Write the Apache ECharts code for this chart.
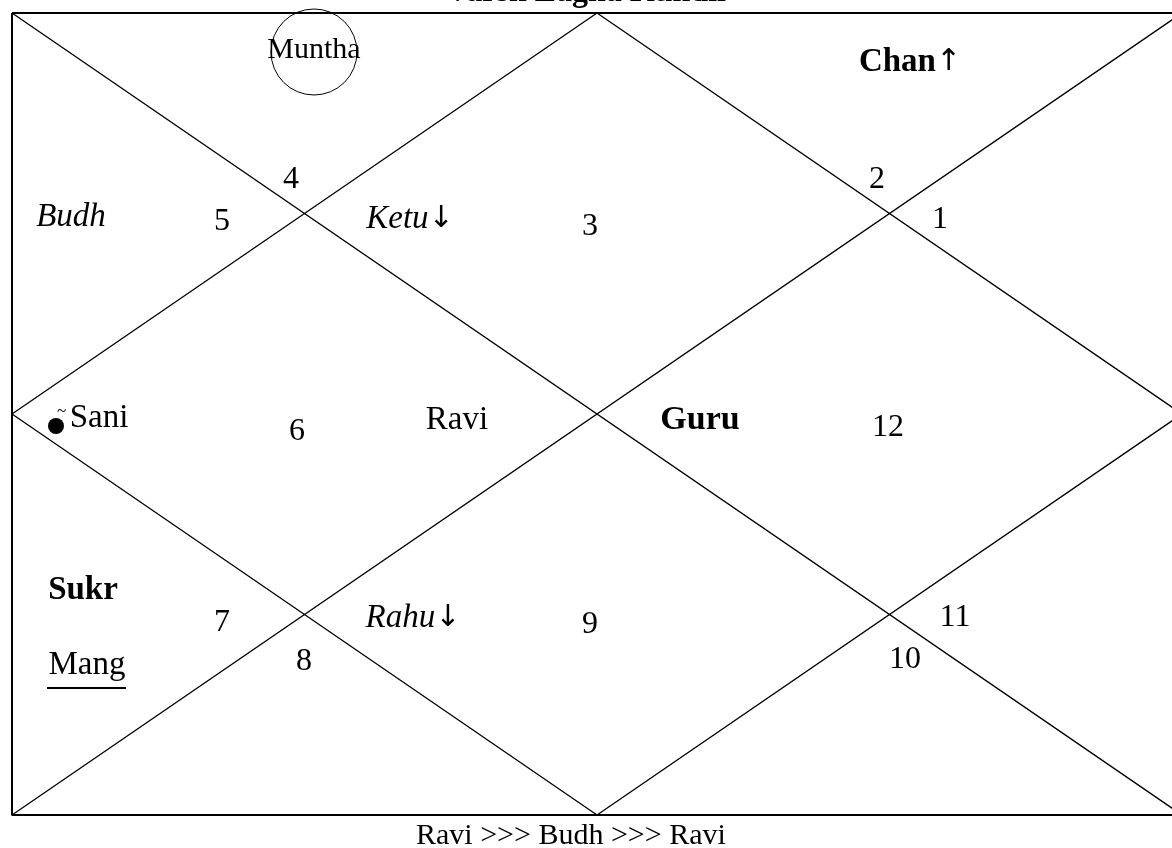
<!DOCTYPE html>
<html><head><meta charset="utf-8">
<script src="https://cdn.jsdelivr.net/npm/echarts@6/dist/echarts.min.js"></script>
<style>html,body{margin:0;padding:0;background:#fff}#c{width:1172px;height:848px}</style>
</head><body><div id="c"></div>
<script>
// chart units: x 0..1170, y 0..802 (top to bottom)
const titleText = 'Varsh Lagna Kundli';
const footerText = 'Ravi >>> Budh >>> Ravi';

const frameLine = [[0,0],[1170,0],[1170,802],[0,802],[0,0]];
const diagonalA = [[0,0],[1170,802]];
const diagonalB = [[1170,0],[0,802]];
const diamond = [[585,0],[1170,401],[585,802],[0,401],[585,0]];

const houseNumbers = ['1','2','3','4','5','6','7','8','9','10','11','12'];
const houseX = [928,865,578,279,210,285,210,292,578,893,943,876];
const houseY = [207,167,214,167,209,419,610,649,612,647,605,415];

const planetNames = ['Muntha','Chan','Budh','Ketu','Sani','Ravi','Guru','Sukr','Rahu','Mang'];
const planetArrows = ['','↑','','↓','','','','','↓',''];
const planetX = [302,898,59,398,87,445,688,71,401,75];
const planetY = [37,49,204,206,405,407,407,577,605,652];
const planetStyle = ['normal','bold','italic','italic','normal','normal','bold','bold','italic','normal'];
const planetFontSize = [30,33,33,33,33,33,34,33,33,33];

const munthaCircle = [[302,39]];
const combustMark = [[44,413]];
const mangUnderline = [[35,675],[114,675]];

const FONT = '"Liberation Serif", "Times New Roman", "DejaVu Serif", serif';
const FS = 32;

function segs(list){
  const out=[];
  list.forEach((s,i)=>{ if(i) out.push([null,null]); s.forEach(p=>out.push(p)); });
  return out;
}

const chart = echarts.init(document.getElementById('c'));
chart.setOption({
  animation:false,
  backgroundColor:'#fff',
  title:[
    {text:titleText,left:'center',top:-28,textStyle:{fontFamily:FONT,fontSize:FS,fontWeight:'bold',color:'#000'}},
    {text:footerText,left:411,top:816,textStyle:{fontFamily:FONT,fontSize:30,fontWeight:'normal',color:'#000'}}
  ],
  grid:{left:12,top:13,width:1170,height:802,outerBoundsMode:'none',containLabel:false},
  xAxis:{type:'value',min:0,max:1170,show:false},
  yAxis:{type:'value',min:0,max:802,inverse:true,show:false},
  series:[
    {type:'line',data:frameLine,symbol:'none',clip:false,lineStyle:{color:'#000',width:2},silent:true},
    {type:'line',data:segs([diagonalA,diagonalB,diamond]),symbol:'none',clip:false,connectNulls:false,lineStyle:{color:'#000',width:1.3},silent:true},
    {type:'line',data:mangUnderline,symbol:'none',clip:false,lineStyle:{color:'#000',width:2},silent:true},
    {type:'scatter',data:munthaCircle,symbol:'circle',symbolSize:86,clip:false,itemStyle:{color:'rgba(0,0,0,0)',borderColor:'#000',borderWidth:1,opacity:1},silent:true},
    {type:'scatter',data:combustMark,symbol:'circle',symbolSize:16,clip:false,itemStyle:{color:'#000',opacity:1},
      label:{show:true,formatter:'~',position:[9,-15],fontSize:17,color:'#000',fontFamily:FONT},silent:true},
    {type:'scatter',symbolSize:0,silent:true,clip:false,itemStyle:{opacity:1},
      data:houseNumbers.map((n,i)=>({name:n,value:[houseX[i],houseY[i]]})),
      label:{show:true,position:'inside',formatter:'{b}',fontFamily:FONT,fontSize:FS,color:'#000'}},
    {type:'scatter',symbolSize:0,silent:true,clip:false,itemStyle:{opacity:1},
      data:planetNames.map((n,i)=>{
        const w = planetStyle[i]==='bold'?'bold':'normal';
        const s = planetStyle[i]==='italic'?'italic':'normal';
        return {name:n,value:[planetX[i],planetY[i]],
          label:{formatter: planetArrows[i] ? '{t|'+n+'}{a|'+planetArrows[i]+'}' : '{t|'+n+'}',
            rich:{t:{fontFamily:FONT,fontSize:planetFontSize[i],color:'#000',fontWeight:w,fontStyle:s},
                  a:{fontFamily:'"DejaVu Sans", sans-serif',fontSize:30,color:'#000',fontWeight:'normal',fontStyle:s}}}};
      }),
      label:{show:true,position:'inside',fontFamily:FONT,fontSize:FS,color:'#000'}}
  ]
});
</script></body></html>
